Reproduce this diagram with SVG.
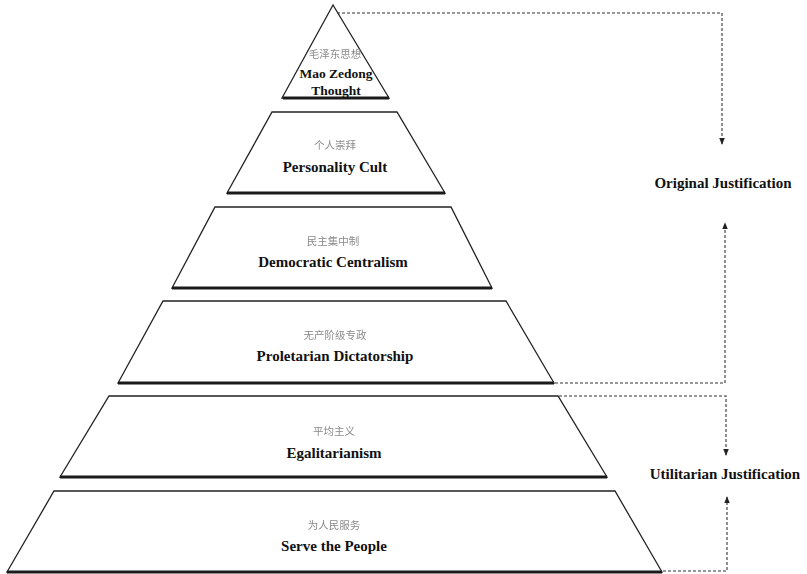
<svg xmlns="http://www.w3.org/2000/svg" width="807" height="574" viewBox="0 0 807 574">
  <defs>
    <marker id="arrow" viewBox="0 0 8 8" refX="7" refY="4" markerWidth="7" markerHeight="7" markerUnits="userSpaceOnUse" orient="auto">
      <path d="M0,0.8 L8,4 L0,7.2 Z" fill="#222"/>
    </marker>
    <filter id="soft" x="-10%" y="-30%" width="120%" height="160%">
      <feGaussianBlur stdDeviation="0.45"/>
    </filter>
  </defs>
  <style>
    .tier { fill: #fff; stroke: #222; stroke-width: 1.3; stroke-linejoin: miter; }
    .base { stroke: #1a1a1a; stroke-width: 3; fill: none; }
    .zh { font-family: "Noto Sans CJK SC", "Noto Sans", sans-serif; font-size: 10.5px; fill: #8a8a8a; text-anchor: middle; filter: url(#soft); }
    .en { font-family: "Liberation Serif", "Times New Roman", serif; font-weight: bold; font-size: 15px; fill: #111; text-anchor: middle; }
    .small { font-size: 13.5px; }
    .link { fill: none; stroke: #333; stroke-width: 1.1; stroke-dasharray: 3 2; }
  </style>

  <rect width="807" height="574" fill="#fff"/>

  <!-- pyramid tiers, top to bottom -->
  <g id="mao-zedong-thought">
    <polygon class="tier" points="333,5 282,98 389,98"/>
    <line class="base" x1="283" y1="98" x2="389" y2="98"/>
    <text class="zh" x="335" y="58">毛泽东思想</text>
    <text class="en small" x="336" y="78">Mao Zedong</text>
    <text class="en small" x="336" y="95">Thought</text>
  </g>

  <g id="personality-cult">
    <polygon class="tier" points="272,112 397,112 445,193 227,193"/>
    <line class="base" x1="227" y1="193" x2="445" y2="193"/>
    <text class="zh" x="335" y="149">个人崇拜</text>
    <text class="en" x="335" y="172">Personality Cult</text>
  </g>

  <g id="democratic-centralism">
    <polygon class="tier" points="215,207 451,207 492,288 172,288"/>
    <line class="base" x1="172" y1="288" x2="492" y2="288"/>
    <text class="zh" x="333" y="245">民主集中制</text>
    <text class="en" x="333" y="267">Democratic Centralism</text>
  </g>

  <g id="proletarian-dictatorship">
    <polygon class="tier" points="163,301 506,301 554,383 118,383"/>
    <line class="base" x1="118" y1="383" x2="554" y2="383"/>
    <text class="zh" x="335" y="339">无产阶级专政</text>
    <text class="en" x="335" y="361">Proletarian Dictatorship</text>
  </g>

  <g id="egalitarianism">
    <polygon class="tier" points="109,396 558,396 607,477 60,477"/>
    <line class="base" x1="60" y1="477" x2="607" y2="477"/>
    <text class="zh" x="334" y="435">平均主义</text>
    <text class="en" x="334" y="458">Egalitarianism</text>
  </g>

  <g id="serve-the-people">
    <polygon class="tier" points="54,491 615,491 662,572 7,572"/>
    <line class="base" x1="7" y1="572" x2="662" y2="572"/>
    <text class="zh" x="334" y="529">为人民服务</text>
    <text class="en" x="334" y="551">Serve the People</text>
  </g>

  <!-- justification labels -->
  <g id="original-justification">
    <text class="en" x="723" y="188">Original Justification</text>
  </g>
  <g id="utilitarian-justification">
    <text class="en" x="725" y="479">Utilitarian Justification</text>
  </g>

  <!-- dashed brackets -->
  <g id="connectors">
    <path class="link" d="M337,13 H722 V144" marker-end="url(#arrow)"/>
    <path class="link" d="M555,383 H725 V223" marker-end="url(#arrow)"/>
    <path class="link" d="M559,396 H726 V455" marker-end="url(#arrow)"/>
    <path class="link" d="M663,571 H727 V497" marker-end="url(#arrow)"/>
  </g>
</svg>
